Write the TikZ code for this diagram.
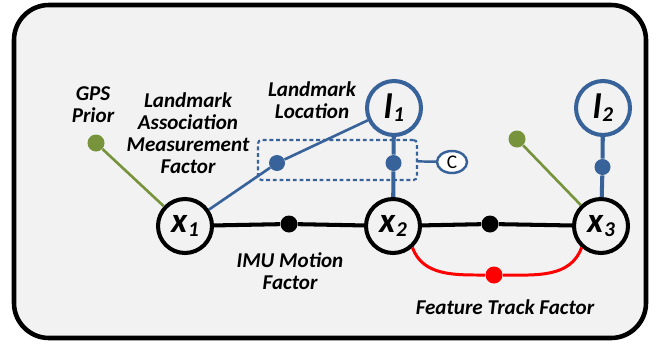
\documentclass[tikz,border=0pt]{standalone}
\usepackage{fontspec}
\setmainfont{Carlito}
\usetikzlibrary{shapes.geometric}

\definecolor{bgcol}{HTML}{F2F2F2}
\definecolor{lmblue}{HTML}{37629A}
\definecolor{gpsgreen}{HTML}{77933C}

\tikzstyle{var}=[circle,draw,line width=2.3pt,fill=bgcol,minimum size=1.08cm,inner sep=0pt]
\tikzstyle{lmk}=[var,draw=lmblue]
\tikzstyle{factor}=[circle,fill,inner sep=0pt,minimum size=0.34cm]
\tikzstyle{lbl}=[align=center,font=\fontsize{12}{12.6}\selectfont\bfseries\itshape]

\newcommand{\varname}[2]{{\fontsize{20}{20}\selectfont\bfseries\itshape #1\kern0.5pt\raisebox{-1.8pt}{\fontsize{12}{12}\selectfont #2}}}

\begin{document}
\begin{tikzpicture}
            \useasboundingbox (0,0) rectangle (13.14,6.86);
            \draw[line width=2.6pt,fill=bgcol,rounded corners=0.7cm] (0.28,0.10) rectangle (12.92,6.76);

            \node (x1) at (3.70,2.34) [var] {\varname{x}{1}};
            \node (x2) at (7.86,2.34) [var] {\varname{x}{2}};
            \node (x3) at (12.02,2.34) [var] {\varname{x}{3}};
            \node (l1) at (7.88,4.70) [lmk] {\varname{l}{1}};
            \node (l2) at (12.06,4.70) [lmk] {\varname{l}{2}};

            \node (m12) at (5.78,2.38) [factor] {};
            \node (m23) at (9.80,2.38) [factor] {};
            \node (g1) at (1.92,4.00) [factor,gpsgreen] {};
            \node (g3) at (10.34,4.08) [factor,gpsgreen] {};
            \node (b1) at (5.54,3.60) [factor,lmblue,minimum size=0.32cm] {};
            \node (bl1) at (7.87,3.60) [factor,lmblue,minimum size=0.32cm] {};
            \node (bl2) at (12.05,3.52) [factor,lmblue,minimum size=0.32cm] {};
            \node (ft) at (9.88,1.36) [factor,red] {};

            \node (assoc) at (6.75,3.66) [draw=lmblue,line width=1.2pt,dash pattern=on 2.2pt off 1.6pt,rounded corners=2pt,minimum width=3.18cm,minimum height=0.80cm] {};
            \node (c) at (9.04,3.62) [ellipse,draw=lmblue,line width=1.4pt,fill=white,minimum width=0.6cm,minimum height=0.44cm,inner sep=0pt,font=\fontsize{11}{11}\selectfont] {C};

            \draw[line width=2.3pt] (x1) -- (m12) -- (x2) -- (m23) -- (x3);
            \draw[gpsgreen,line width=1.5pt] (g1) -- (x1);
            \draw[gpsgreen,line width=1.5pt] (g3) -- (x3);
            \draw[lmblue,line width=1.5pt] (x1) -- (b1) -- (l1);
            \draw[lmblue,line width=2.3pt] (l1) -- (bl1) -- (x2);
            \draw[lmblue,line width=2.3pt] (l2) -- (bl2) -- (x3);
            \draw[lmblue,line width=1.4pt] (assoc) -- (c);
            \draw[red,line width=1.7pt] (x2.-48) to[out=-70,in=180] (ft) to[out=0,in=-110] (x3.-132);

            \node (gpslbl) at (1.86,4.76) [lbl] {GPS\\Prior};
            \node (assoclbl) at (3.76,4.20) [lbl] {Landmark\\Association\\Measurement\\Factor};
            \node (loclbl) at (6.24,4.86) [lbl] {Landmark\\Location};
            \node (imulbl) at (5.80,1.44) [lbl] {IMU Motion\\Factor};
            \node (ftlbl) at (10.10,0.72) [lbl] {Feature Track Factor};
        \end{tikzpicture}
\end{document}
